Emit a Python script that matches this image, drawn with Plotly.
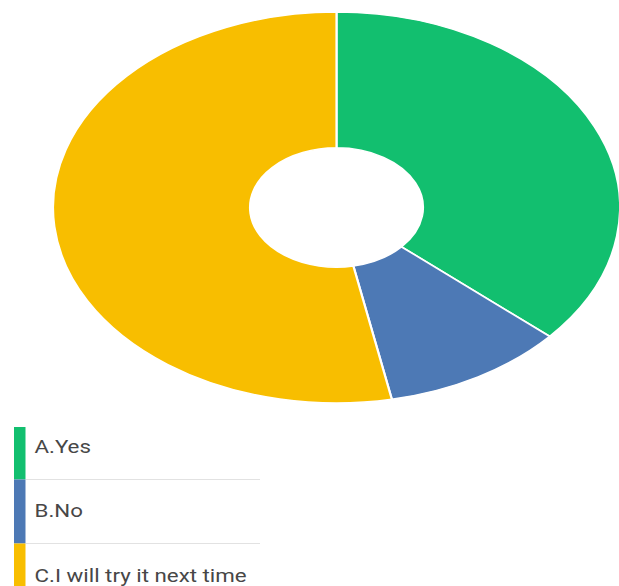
import plotly.graph_objects as go

# Survey answers
categories = ["A.Yes", "B.No", "C.I will try it next time"]
counts = [35, 10, 51]
colors = ["#12BF6F", "#4D79B5", "#F8BE00"]

W, H = 619, 586

# Donut geometry (pixels): centre, vertical radius and horizontal stretch
CX, CY = 336.5, 207.5
RY = 195.5
RX = 283.5
SX = RX / RY

# Legend labels are drawn slightly widened to suit the stretched layout
TEXT_X = 32.0
TEXT_SX = 1.24


def px_x(x):
    return x / W


def px_y(y):
    return 1 - y / H


fig = go.Figure()
fig.add_trace(go.Pie(
    labels=categories,
    values=counts,
    marker=dict(colors=colors, line=dict(color="#ffffff", width=1.5)),
    hole=0.305,
    sort=False,
    direction="clockwise",
    rotation=0,
    textinfo="none",
    hoverinfo="label+value+percent",
    showlegend=False,
    domain=dict(x=[px_x(CX - RY), px_x(CX + RY)],
                y=[px_y(CY + RY), px_y(CY - RY)]),
))

# Legend rows: colour bar, label and separator line
row_tops = [427, 479.5, 543.5]
row_bottoms = [479.5, 543.5, 600]
text_y = [446, 510, 575]

shapes = []
annotations = []
for i, (name, col) in enumerate(zip(categories, colors)):
    shapes.append(dict(type="rect", xref="paper", yref="paper",
                       x0=px_x(14), x1=px_x(25.5),
                       y0=px_y(row_bottoms[i]), y1=px_y(row_tops[i]),
                       fillcolor=col, line=dict(width=0), layer="above"))
    if i > 0:
        shapes.append(dict(type="line", xref="paper", yref="paper",
                           x0=px_x(26), x1=px_x(260),
                           y0=px_y(row_tops[i]), y1=px_y(row_tops[i]),
                           line=dict(color="#E2E2E2", width=1)))
    annotations.append(dict(text=name, xref="paper", yref="paper",
                            x=px_x(TEXT_X), y=px_y(text_y[i]),
                            xanchor="left", yanchor="middle",
                            showarrow=False,
                            font=dict(family="Roboto", size=18, color="#474747")))

fig.update_layout(
    width=W, height=H,
    margin=dict(l=0, r=0, t=0, b=0),
    paper_bgcolor="#ffffff",
    plot_bgcolor="#ffffff",
    shapes=shapes,
    annotations=annotations,
)

# Stretch the donut into an ellipse and widen the legend labels
stretch_js = (
    "var gd = document.getElementById('{plot_id}');\n"
    "function stretchAll() {\n"
    "  var g = gd.querySelector('.pielayer');\n"
    "  if (g) { g.setAttribute('transform', 'translate(%g,%g) scale(%g,1) translate(%g,%g)'); }\n"
    "  gd.querySelectorAll('g.annotation').forEach(function (a) {\n"
    "    a.setAttribute('transform', 'translate(%g,0) scale(%g,1) translate(%g,0)');\n"
    "  });\n"
    "}\n"
    "stretchAll();\n"
    "gd.on('plotly_afterplot', stretchAll);\n"
) % (CX, CY, SX, -CX, -CY, TEXT_X, TEXT_SX, -TEXT_X)

fig.write_html("out.html", post_script=stretch_js)
